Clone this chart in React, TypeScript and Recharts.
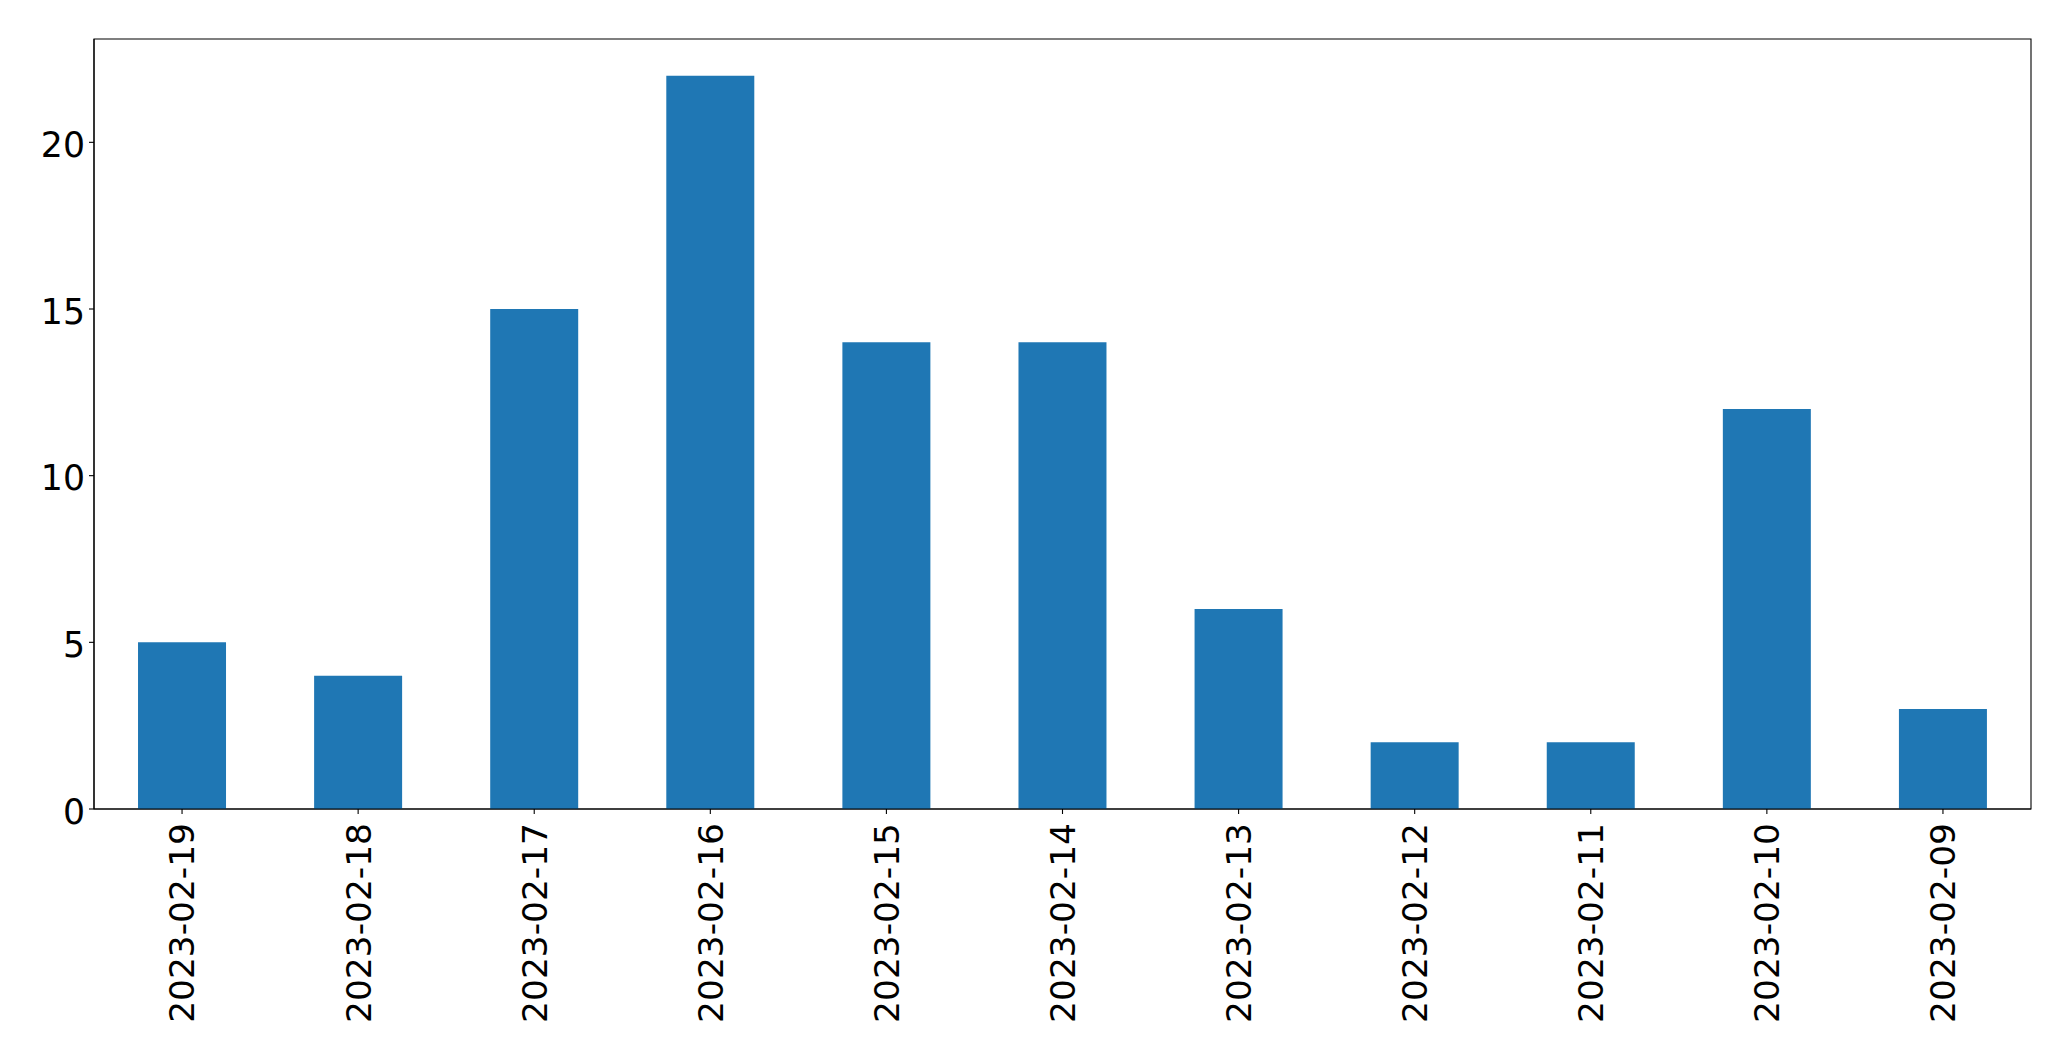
import React from 'react';
import { BarChart, Bar, XAxis, YAxis, ReferenceArea } from 'recharts';

const dates = [
  '2023-02-19',
  '2023-02-18',
  '2023-02-17',
  '2023-02-16',
  '2023-02-15',
  '2023-02-14',
  '2023-02-13',
  '2023-02-12',
  '2023-02-11',
  '2023-02-10',
  '2023-02-09',
];
const counts = [5, 4, 15, 22, 14, 14, 6, 2, 2, 12, 3];
const yTicks = [0, 5, 10, 15, 20];

const data = dates.map((date, i) => ({ date, count: counts[i] }));

const FONT = 'DejaVu Sans';

function DateTick(props: any) {
  const { x, y, payload } = props;
  const ty = y + 7;
  return (
    <text
      x={x}
      y={ty}
      transform={`rotate(-90, ${x}, ${ty})`}
      textAnchor="end"
      dy="0.36em"
      fontFamily={FONT}
      fontSize={34.4}
      fill="#000"
    >
      {payload.value}
    </text>
  );
}

function CountTick(props: any) {
  const { x, y, payload } = props;
  return (
    <text
      x={x - 2}
      y={y}
      textAnchor="end"
      dy="0.42em"
      fontFamily={FONT}
      fontSize={34.7}
      fill="#000"
    >
      {payload.value}
    </text>
  );
}

export default function App() {
  return (
    <div style={{ position: 'absolute', left: 0, top: 0, background: '#fff' }}>
      <BarChart
        width={2071}
        height={1061}
        data={data}
        margin={{ top: 39, right: 40, bottom: 0, left: 0 }}
        barCategoryGap="25%"
      >
        <XAxis
          dataKey="date"
          height={252}
          interval={0}
          tick={<DateTick />}
          tickLine={{ stroke: '#000', strokeWidth: 1.1 }}
          tickSize={5}
          axisLine={{ stroke: '#000', strokeWidth: 1.1 }}
        />
        <YAxis
          width={94}
          domain={[0, 23.1]}
          ticks={yTicks}
          allowDataOverflow
          tick={<CountTick />}
          tickLine={{ stroke: '#000', strokeWidth: 1.1 }}
          tickSize={5}
          axisLine={{ stroke: '#000', strokeWidth: 1.1 }}
        />
        <Bar dataKey="count" fill="#1f77b4" isAnimationActive={false} />
        <ReferenceArea
          y1={0}
          y2={23.1}
          fill="none"
          stroke="#000"
          strokeWidth={1.1}
          ifOverflow="visible"
        />
      </BarChart>
    </div>
  );
}
